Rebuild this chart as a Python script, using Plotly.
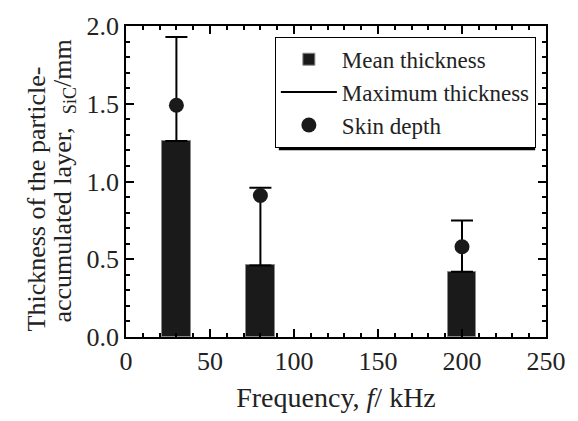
import plotly.graph_objects as go

freq = [30, 80, 200]
mean_thickness = [1.26, 0.46, 0.42]
max_thickness = [1.93, 0.96, 0.75]
skin_depth = [1.49, 0.91, 0.58]

err_plus = [m - t for m, t in zip(max_thickness, mean_thickness)]
FONT = "Liberation Serif"
TXT = "#222"

fig = go.Figure()
fig.add_trace(go.Bar(
    x=freq, y=mean_thickness, width=17, name="Mean thickness",
    marker=dict(color="#1a1a1a", line=dict(color="#8a8a8a", width=1)),
    error_y=dict(type="data", symmetric=False, array=err_plus,
                 arrayminus=[0, 0, 0], color="black", thickness=2, width=11),
))
fig.add_trace(go.Scatter(
    x=[None], y=[None], mode="lines", name="Maximum thickness",
    line=dict(color="black", width=2),
))
fig.add_trace(go.Scatter(
    x=freq, y=skin_depth, mode="markers", name="Skin depth",
    marker=dict(color="#1a1a1a", size=15),
))

axis_common = dict(
    showline=True, linecolor="black", linewidth=1.5, mirror="ticks",
    ticks="inside", ticklen=8, tickwidth=1.5, tickcolor="black",
    showgrid=False, zeroline=False,
    tickfont=dict(family=FONT, size=26, color=TXT),
)
fig.update_xaxes(range=[0, 250], dtick=50,
                 minor=dict(dtick=10, ticks="inside", ticklen=4, tickcolor="black"),
                 title=dict(text="Frequency, <i>f</i>/ kHz", font=dict(family=FONT, size=28, color=TXT), standoff=12),
                 **axis_common)
fig.update_yaxes(range=[0, 2.0], dtick=0.5, tickformat=".1f",
                 minor=dict(dtick=0.1, ticks="inside", ticklen=4, tickcolor="black"),
                 **axis_common)

fig.add_annotation(text="Thickness of the particle-", xref="paper", yref="paper",
                   x=-0.213, y=0.444, textangle=-90, showarrow=False,
                   font=dict(family=FONT, size=26, color=TXT), xanchor="center", yanchor="middle")
fig.add_annotation(text="accumulated layer,  <sub>SiC</sub>/mm", xref="paper", yref="paper",
                   x=-0.15, y=0.50, textangle=-90, showarrow=False,
                   font=dict(family=FONT, size=26, color=TXT), xanchor="center", yanchor="middle")

# legend drop shadow (pixel geometry converted to paper units)
PW, PH = 578 - 126 - 26, 421 - 19 - 84
def px_x(p):
    return (p - 126) / PW
def px_y(p):
    return 1 - (p - 19) / PH

fig.add_shape(type="rect", xref="paper", yref="paper", layer="above",
              x0=px_x(281), x1=px_x(541), y0=px_y(146), y1=px_y(37),
              fillcolor="black", line=dict(width=0))

fig.update_layout(
    width=578, height=421,
    margin=dict(l=126, r=26, t=19, b=84),
    plot_bgcolor="white", paper_bgcolor="white",
    bargap=0,
    showlegend=True,
    legend=dict(x=px_x(277), y=px_y(30), xanchor="left", yanchor="top",
                bgcolor="white", bordercolor="black", borderwidth=1,
                font=dict(family=FONT, size=23, color=TXT),
                tracegroupgap=0, itemwidth=56),
)
fig.write_html("out.html")
